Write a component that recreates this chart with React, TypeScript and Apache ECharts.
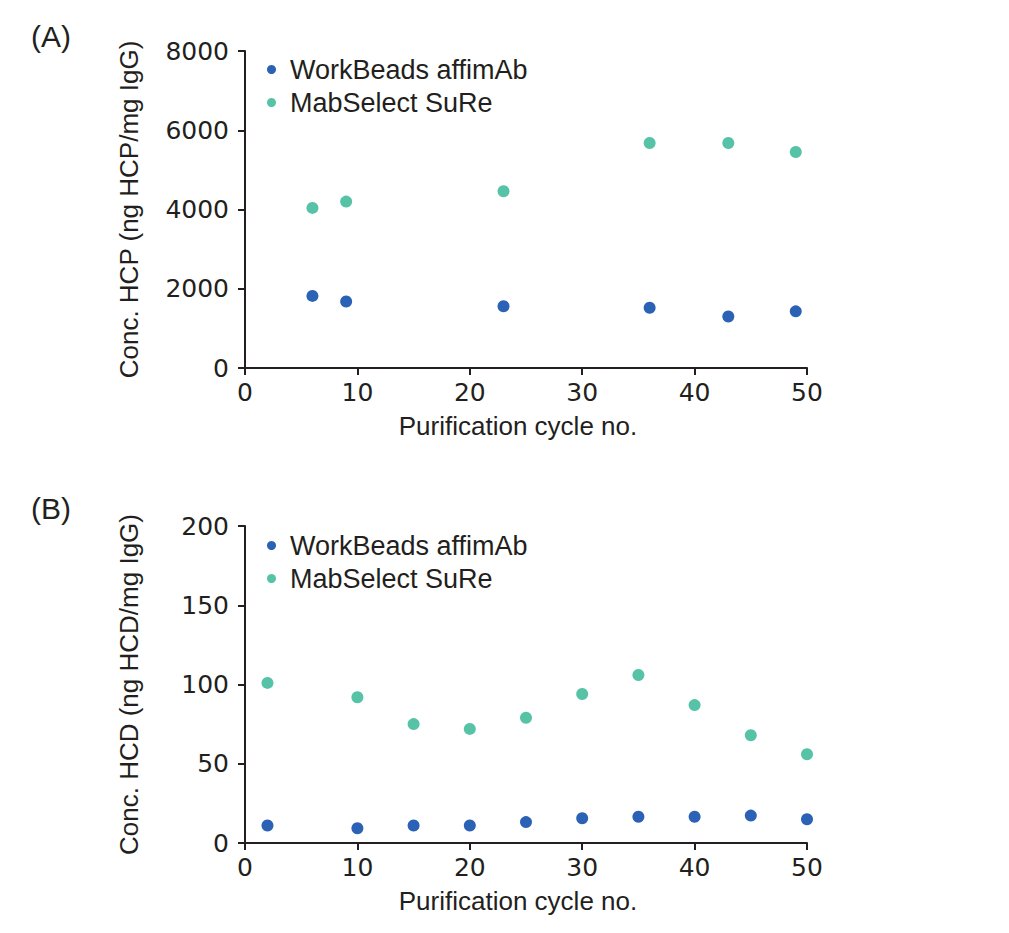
import React, { useEffect, useRef } from "react";
import * as echarts from "echarts";

const seriesNames = ["WorkBeads affimAb", "MabSelect SuRe"];
const colors = ["#2b62b5", "#56c2a6"];

// Panel A: HCP
const hcpCycles = [6, 9, 23, 36, 43, 49];
const hcpWorkBeads = [1820, 1680, 1560, 1520, 1300, 1430];
const hcpMabSelect = [4040, 4200, 4460, 5680, 5680, 5450];

// Panel B: HCD
const hcdCycles = [2, 10, 15, 20, 25, 30, 35, 40, 45, 50];
const hcdWorkBeads = [11, 9.3, 11, 11, 13.2, 15.6, 16.6, 16.6, 17.3, 15];
const hcdMabSelect = [101, 92, 75, 72, 79, 94, 106, 87, 68, 56];

const xTitle = "Purification cycle no.";
const yTitleA = "Conc. HCP (ng HCP/mg IgG)";
const yTitleB = "Conc. HCD (ng HCD/mg IgG)";
const panelLabels = ["(A)", "(B)"];

const FONT = "Liberation Sans";
const NUMFONT = "DejaVu Sans";
const TEXT = "#231f20";

export default function App() {
  const ref = useRef<HTMLDivElement>(null);
  useEffect(() => {
    if (!ref.current) return;
    const chart = echarts.init(ref.current, undefined, { renderer: "svg" });
    const axisLine = { show: true, lineStyle: { color: TEXT, width: 2 } };
    const axisTick = { show: true, inside: false, length: 7, lineStyle: { color: TEXT, width: 2 } };
    const xAxis = (gridIndex: number) => ({
      type: "value",
      gridIndex,
      min: 0,
      max: 50,
      interval: 10,
      name: xTitle,
      nameLocation: "middle",
      nameGap: 45,
      nameTextStyle: { color: TEXT, fontSize: 26, fontFamily: FONT, padding: [0, 16, 0, 0] },
      axisLine,
      axisTick,
      splitLine: { show: false },
      axisLabel: { color: TEXT, fontSize: 25, fontFamily: NUMFONT, margin: 12, formatter: (v: number) => String(v) },
    });
    const yAxis = (gridIndex: number, max: number, interval: number, name: string) => ({
      type: "value",
      gridIndex,
      min: 0,
      max,
      interval,
      name,
      nameLocation: "middle",
      nameGap: 103,
      nameTextStyle: { color: TEXT, fontSize: 26, fontFamily: FONT },
      axisLine,
      axisTick,
      splitLine: { show: false },
      axisLabel: { color: TEXT, fontSize: 25, fontFamily: NUMFONT, margin: 16, formatter: (v: number) => String(v) },
    });
    const pts = (xs: number[], ys: number[]) => xs.map((x, i) => [x, ys[i]]);
    const sc = (name: string, color: string, idx: number, data: number[][]) => ({
      type: "scatter",
      name,
      xAxisIndex: idx,
      yAxisIndex: idx,
      data,
      symbol: "circle",
      symbolSize: 12,
      itemStyle: { color, opacity: 1 },
    });
    const legend = (top: number) => ({
      orient: "vertical",
      left: 262,
      top,
      icon: "circle",
      itemWidth: 9,
      itemHeight: 9,
      itemGap: 6,
      data: seriesNames,
      textStyle: { color: TEXT, fontSize: 27, fontFamily: FONT, padding: [0, 0, 0, 9] },
      selectedMode: false,
    });
    chart.setOption({
      animation: false,
      backgroundColor: "#ffffff",
      color: colors,
      grid: [
        { left: 245, top: 51, width: 562, height: 317 },
        { left: 245, top: 526, width: 562, height: 317 },
      ],
      xAxis: [xAxis(0), xAxis(1)],
      yAxis: [yAxis(0, 8000, 2000, yTitleA), yAxis(1, 200, 50, yTitleB)],
      legend: [legend(51), legend(527)],
      graphic: [
        { type: "text", left: 31, top: 21, style: { text: panelLabels[0], fontSize: 30, fontFamily: FONT, fill: TEXT } },
        { type: "text", left: 31, top: 493, style: { text: panelLabels[1], fontSize: 30, fontFamily: FONT, fill: TEXT } },
      ],
      series: [
        sc(seriesNames[0], colors[0], 0, pts(hcpCycles, hcpWorkBeads)),
        sc(seriesNames[1], colors[1], 0, pts(hcpCycles, hcpMabSelect)),
        sc(seriesNames[0], colors[0], 1, pts(hcdCycles, hcdWorkBeads)),
        sc(seriesNames[1], colors[1], 1, pts(hcdCycles, hcdMabSelect)),
      ],
    });
    return () => chart.dispose();
  }, []);
  return (
    <div
      ref={ref}
      style={{ position: "absolute", left: 0, top: 0, width: 1009, height: 933 }}
    />
  );
}
